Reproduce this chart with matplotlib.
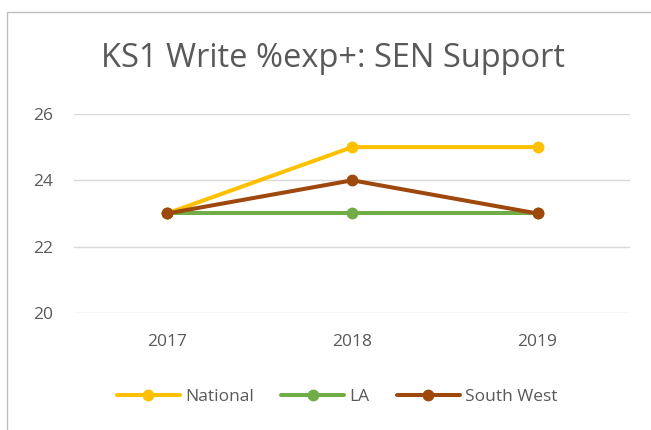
import matplotlib.pyplot as plt
from matplotlib.patches import Rectangle

years = ["2017", "2018", "2019"]
national = [23, 25, 25]
la = [23, 23, 23]
south_west = [23, 24, 23]

series = [
    ("National", national, "#FFC000"),
    ("LA", la, "#70AD47"),
    ("South West", south_west, "#9E480E"),
]

text_grey = "#595959"
plt.rcParams["font.family"] = ["Open Sans", "DejaVu Sans"]

fig = plt.figure(figsize=(6.51, 4.30), dpi=100)
ax = fig.add_axes([0.114, 0.272, 0.854, 0.463])

# chart frame, left/top edges visible
fig.patches.append(Rectangle((7 / 651, -0.1), 1.2, 1 - 12 / 430 + 0.1,
                             transform=fig.transFigure, fill=False,
                             edgecolor="#BFBFBF", linewidth=1.0))

x = range(len(years))
for name, vals, col in series:
    ax.plot(x, vals, color=col, linewidth=2.9, marker="o", markersize=7.5,
            label=name, solid_capstyle="round")

ax.set_xlim(-0.5, 2.5)
ax.set_ylim(20, 26)
ax.set_yticks([20, 22, 24, 26])
ax.set_xticks(list(x))
ax.set_xticklabels(years)
ax.grid(axis="y", color="#D9D9D9", linewidth=1.0)
ax.set_axisbelow(True)
for s in ax.spines.values():
    s.set_visible(False)
ax.tick_params(length=0, colors=text_grey, labelsize=12.5)
ax.tick_params(axis="y", pad=15)
ax.tick_params(axis="x", pad=15)

fig.text(0.512, 1 - 67 / 430, "KS1 Write %exp+: SEN Support", ha="center",
         va="baseline", fontsize=23.5, color=text_grey)

fig.legend(loc="center", bbox_to_anchor=(0.518, 1 - 397 / 430), ncol=3,
           frameon=False, fontsize=12.5, labelcolor=text_grey,
           handlelength=3.6, handletextpad=0.3, columnspacing=1.6)

fig.savefig("out.png", dpi=100)
